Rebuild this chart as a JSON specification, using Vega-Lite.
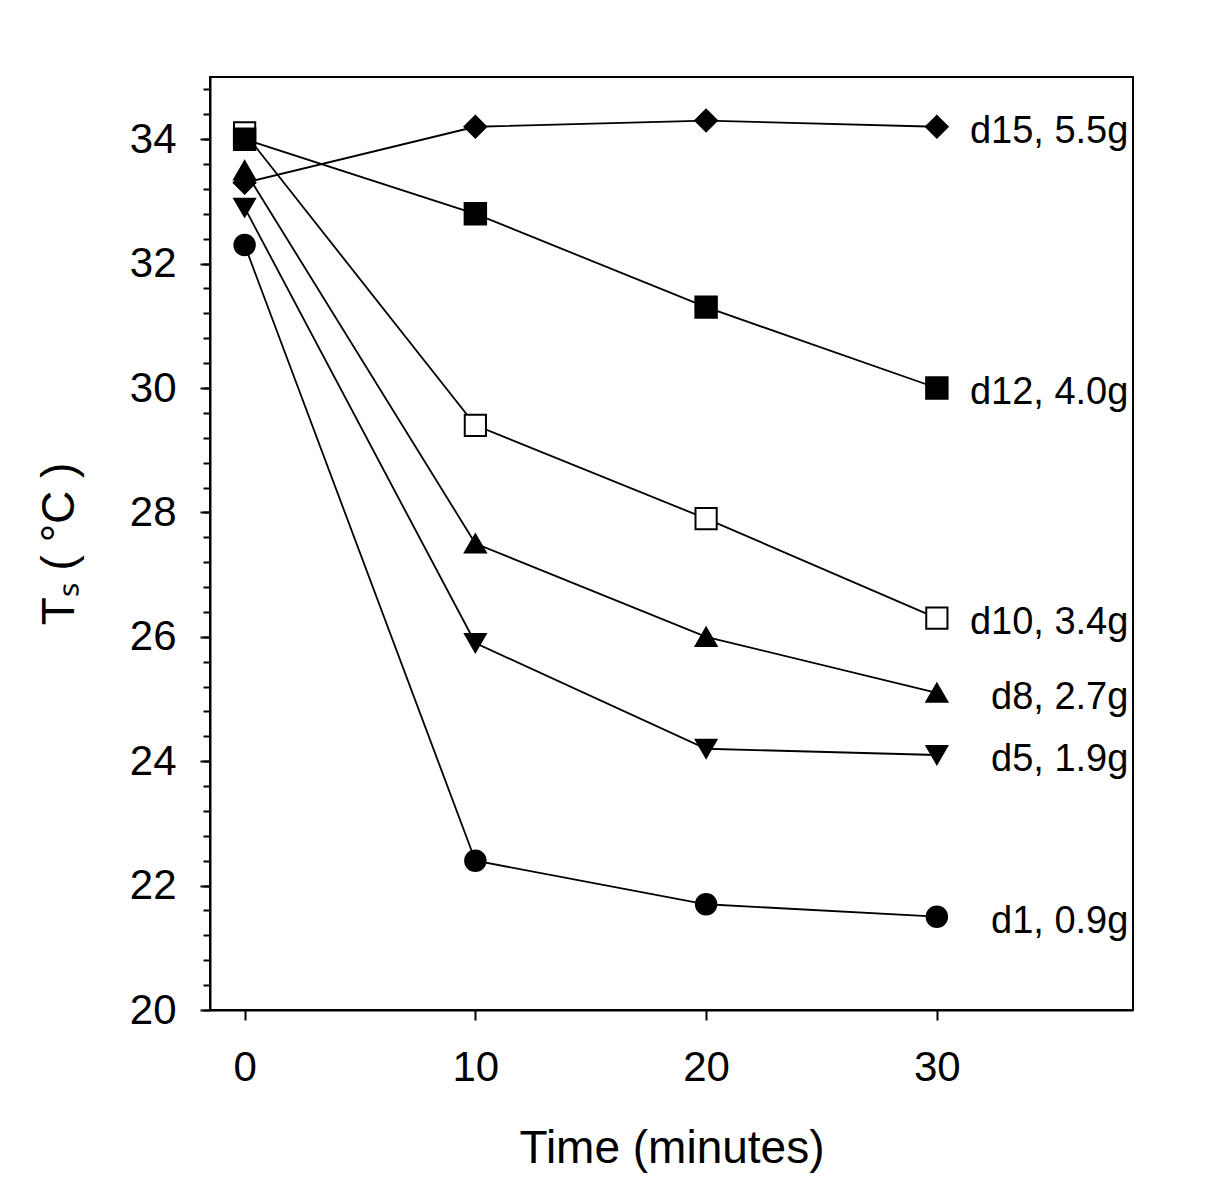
{
  "$schema": "https://vega.github.io/schema/vega-lite/v6.json",
  "description": "Surface temperature Ts over time for six samples (d1 to d15).",
  "width": 923,
  "height": 933,
  "autosize": {"type": "none"},
  "padding": {"left": 210, "top": 77, "right": 91, "bottom": 185},
  "background": "white",
  "config": {
    "view": {"stroke": "black", "strokeWidth": 2},
    "font": "Liberation Sans",
    "axis": {
      "grid": false,
      "domainColor": "black",
      "domainWidth": 2,
      "tickColor": "black",
      "tickWidth": 2,
      "labelColor": "black",
      "titleColor": "black",
      "labelFont": "Liberation Sans",
      "titleFont": "Liberation Sans",
      "labelFontWeight": "normal",
      "titleFontWeight": "normal"
    }
  },
  "data": {
    "values": [
      {"series": "d1", "label": "d1, 0.9g", "time": 0, "ts": 32.3},
      {"series": "d1", "label": "d1, 0.9g", "time": 10, "ts": 22.4},
      {"series": "d1", "label": "d1, 0.9g", "time": 20, "ts": 21.7},
      {"series": "d1", "label": "d1, 0.9g", "time": 30, "ts": 21.5},
      {"series": "d5", "label": "d5, 1.9g", "time": 0, "ts": 32.9},
      {"series": "d5", "label": "d5, 1.9g", "time": 10, "ts": 25.9},
      {"series": "d5", "label": "d5, 1.9g", "time": 20, "ts": 24.2},
      {"series": "d5", "label": "d5, 1.9g", "time": 30, "ts": 24.1},
      {"series": "d8", "label": "d8, 2.7g", "time": 0, "ts": 33.5},
      {"series": "d8", "label": "d8, 2.7g", "time": 10, "ts": 27.5},
      {"series": "d8", "label": "d8, 2.7g", "time": 20, "ts": 26.0},
      {"series": "d8", "label": "d8, 2.7g", "time": 30, "ts": 25.1},
      {"series": "d10", "label": "d10, 3.4g", "time": 0, "ts": 34.1},
      {"series": "d10", "label": "d10, 3.4g", "time": 10, "ts": 29.4},
      {"series": "d10", "label": "d10, 3.4g", "time": 20, "ts": 27.9},
      {"series": "d10", "label": "d10, 3.4g", "time": 30, "ts": 26.3},
      {"series": "d12", "label": "d12, 4.0g", "time": 0, "ts": 34.0},
      {"series": "d12", "label": "d12, 4.0g", "time": 10, "ts": 32.8},
      {"series": "d12", "label": "d12, 4.0g", "time": 20, "ts": 31.3},
      {"series": "d12", "label": "d12, 4.0g", "time": 30, "ts": 30.0},
      {"series": "d15", "label": "d15, 5.5g", "time": 0, "ts": 33.3},
      {"series": "d15", "label": "d15, 5.5g", "time": 10, "ts": 34.2},
      {"series": "d15", "label": "d15, 5.5g", "time": 20, "ts": 34.3},
      {"series": "d15", "label": "d15, 5.5g", "time": 30, "ts": 34.2}
    ]
  },
  "encoding": {
    "x": {
      "field": "time",
      "type": "quantitative",
      "scale": {"domain": [-1.5, 38.5], "nice": false, "zero": false},
      "axis": {
        "title": "Time (minutes)",
        "values": [0, 10, 20, 30],
        "tickSize": 10,
        "labelFontSize": 42,
        "labelPadding": 27,
        "titleFontSize": 46,
        "titlePadding": 38
      }
    },
    "y": {
      "field": "ts",
      "type": "quantitative",
      "scale": {"domain": [20, 35], "nice": false, "zero": false}
    }
  },
  "layer": [
    {
      "mark": {"type": "line", "color": "black", "strokeWidth": 1.8},
      "encoding": {
        "detail": {"field": "series"},
        "y": {
          "field": "ts",
          "type": "quantitative",
          "axis": {
            "orient": "left",
            "title": "Tₛ  ( °C )",
            "values": [20, 22, 24, 26, 28, 30, 32, 34],
            "tickSize": 10,
            "labelFontSize": 42,
            "labelPadding": 24,
            "titleFontSize": 46,
            "titlePadding": 46
          }
        }
      }
    },
    {
      "mark": {"type": "point", "filled": false, "stroke": "black", "strokeWidth": 2, "opacity": 1},
      "encoding": {
        "y": {
          "field": "ts",
          "type": "quantitative",
          "axis": {
            "orient": "left",
            "title": null,
            "labels": false,
            "domain": false,
            "tickSize": 7,
            "values": [20, 20.4, 20.8, 21.2, 21.6, 22, 22.4, 22.8, 23.2, 23.6, 24, 24.4, 24.8, 25.2, 25.6, 26, 26.4, 26.8, 27.2, 27.6, 28, 28.4, 28.8, 29.2, 29.6, 30, 30.4, 30.8, 31.2, 31.6, 32, 32.4, 32.8, 33.2, 33.6, 34, 34.4, 34.8]
          }
        },
        "shape": {
          "field": "series",
          "type": "nominal",
          "scale": {
            "domain": ["d1", "d5", "d8", "d10", "d12", "d15"],
            "range": ["circle", "triangle-down", "triangle-up", "square", "square", "diamond"]
          },
          "legend": null
        },
        "fill": {
          "field": "series",
          "type": "nominal",
          "scale": {
            "domain": ["d1", "d5", "d8", "d10", "d12", "d15"],
            "range": ["black", "black", "black", "white", "black", "black"]
          },
          "legend": null
        },
        "size": {
          "field": "series",
          "type": "nominal",
          "scale": {
            "domain": ["d1", "d5", "d8", "d10", "d12", "d15"],
            "range": [420, 470, 470, 250, 270, 460]
          },
          "legend": null
        },
        "order": {"field": "series", "sort": "ascending"}
      }
    },
    {
      "transform": [{"filter": "datum.time === 30"}],
      "mark": {"type": "text", "align": "right", "baseline": "middle", "dy": 5, "fontSize": 38, "font": "Liberation Sans", "color": "black"},
      "encoding": {
        "x": {"datum": 38.3},
        "y": {"field": "ts", "type": "quantitative", "axis": null},
        "text": {"field": "label"}
      }
    }
  ],
  "resolve": {"axis": {"y": "independent"}}
}
